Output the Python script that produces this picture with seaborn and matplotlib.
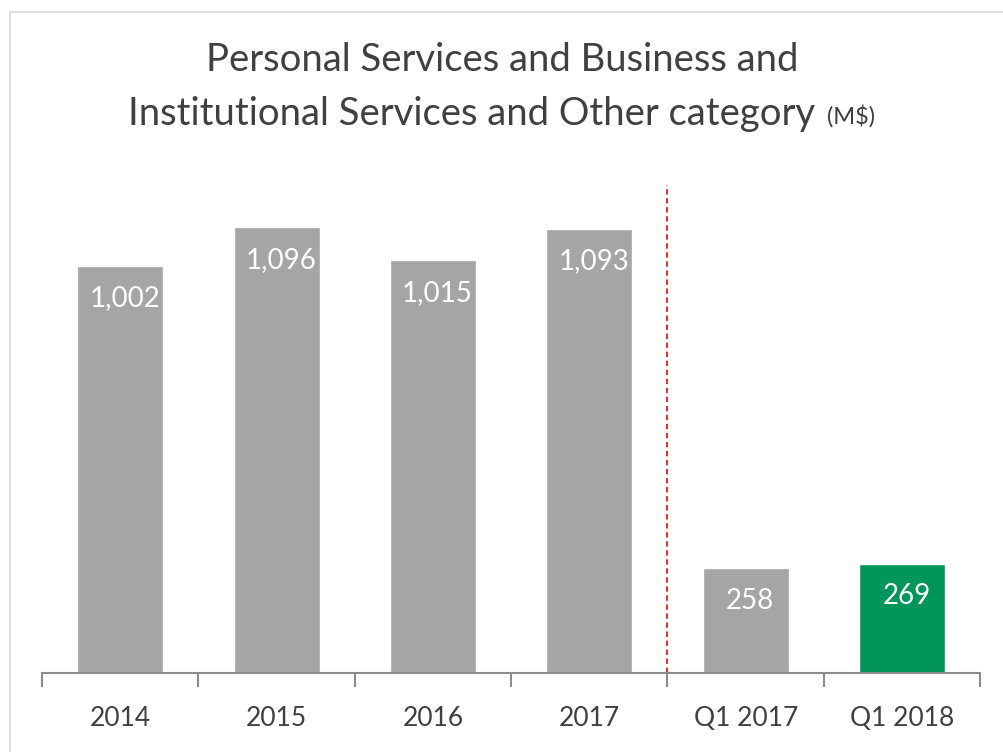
import numpy as np
import pandas as pd
import matplotlib.pyplot as plt
import seaborn as sns
from matplotlib.patches import Rectangle

# Data
categories = ['2014', '2015', '2016', '2017', 'Q1 2017', 'Q1 2018']
values = [1002, 1096, 1015, 1093, 258, 269]
bar_colors = ['#A5A5A5', '#A5A5A5', '#A5A5A5', '#A5A5A5', '#A5A5A5', '#00965A']

df = pd.DataFrame({'period': categories, 'value': values})

sns.set_style('white')
plt.rcParams['font.family'] = ['Lato', 'DejaVu Sans']

fig = plt.figure(figsize=(10.04, 7.52), dpi=100)
ax = fig.add_axes([0.0418, 0.105, 0.9345, 0.649])

sns.barplot(data=df, x='period', y='value', hue='period', palette=bar_colors,
            legend=False, width=0.55, saturation=1, ax=ax)

ax.set_ylim(0, 1200)
ax.set_xlim(-0.5, len(categories) - 0.5)

# Value labels inside the bars
for i, v in enumerate(values):
    ax.text(i + 0.03, v - 80, f'{v:,}', ha='center', va='center',
            color='white', fontsize=20)

# Red dashed separator between years and quarters
ax.axvline(3.5, color='#E8191B', linestyle=(0, (3, 2)), linewidth=1.3)

# Axis styling
for s in ['top', 'right', 'left']:
    ax.spines[s].set_visible(False)
ax.spines['bottom'].set_color('#8C8C8C')
ax.spines['bottom'].set_linewidth(1.5)
ax.set_yticks([])
ax.set_xlabel('')
ax.set_ylabel('')
ax.set_xticks(range(len(categories)))
ax.set_xticklabels(categories, fontsize=19, color='#404040')
ax.tick_params(axis='x', which='major', bottom=True, length=0, pad=24)
ax.set_xticks(np.arange(-0.5, len(categories)), minor=True)
ax.tick_params(axis='x', which='minor', bottom=True, length=10, width=1.5,
               color='#8C8C8C', direction='out')

# Title
fig.text(0.5, 0.92, 'Personal Services and Business and', ha='center', va='center',
         fontsize=27.5, color='#404040')
t2 = fig.text(0.5, 0.849, 'Institutional Services and Other category', ha='center',
              va='center', fontsize=27.5, color='#404040')
t3 = fig.text(0.5, 0.846, '(M$)', ha='left', va='center', fontsize=17, color='#404040')
fig.canvas.draw()
r = fig.canvas.get_renderer()
w2 = t2.get_window_extent(renderer=r).width
w3 = t3.get_window_extent(renderer=r).width
gap = 12
total = w2 + gap + w3
x0 = (fig.bbox.width - total) / 2
t2.set_ha('left')
t2.set_x(x0 / fig.bbox.width)
t3.set_x((x0 + w2 + gap) / fig.bbox.width)

# Chart border
fig.patches.append(Rectangle((10 / 1004, -0.1), 1.2, (752 - 12) / 752 + 0.1,
                             transform=fig.transFigure, fill=False,
                             edgecolor='#D9D9D9', linewidth=1.2))

fig.savefig('out.png', dpi=100)
